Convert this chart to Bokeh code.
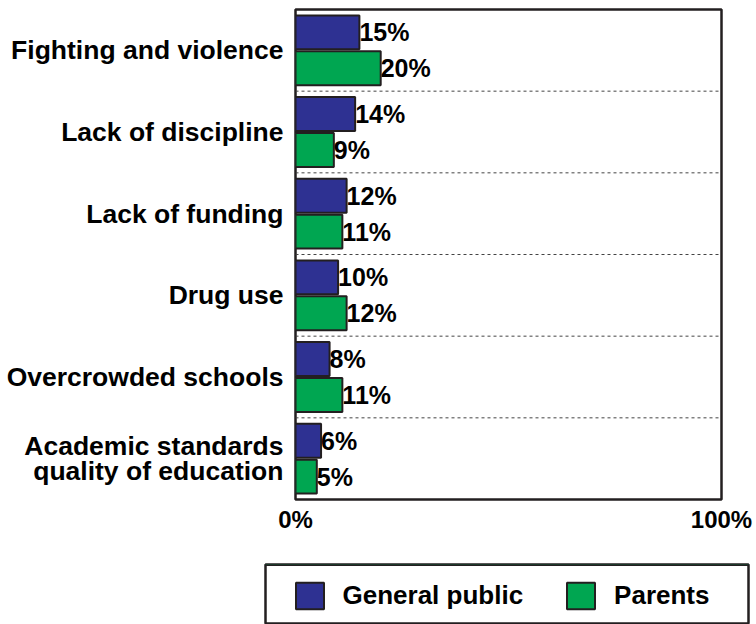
from bokeh.plotting import figure
from bokeh.models import (ColumnDataSource, FactorRange, Range1d, FixedTicker, Span,
                          Legend, LegendItem)
from bokeh.layouts import column
from bokeh.core.properties import value
from bokeh.transform import dodge
from bokeh.embed import file_html
from bokeh.resources import INLINE

categories = ["Fighting and violence", "Lack of discipline", "Lack of funding",
              "Drug use", "Overcrowded schools",
              "Academic standards\nquality of education"]
general_public = [15, 14, 12, 10, 8, 6]
parents = [20, 9, 11, 12, 11, 5]
series_names = ["General public", "Parents"]
series_colors = ["#2e3192", "#00a651"]
x_ticks = [0, 100]
x_tick_labels = ["0%", "100%"]

FONT = "Liberation Sans"
DARK = "#231f20"
OFF = 0.22
BAR_H = 0.415

src = ColumnDataSource(dict(
    cat=categories,
    gp=general_public,
    pa=parents,
    gp_lbl=[f"{v}%" for v in general_public],
    pa_lbl=[f"{v}%" for v in parents],
))

p = figure(width=756, height=540,
           y_range=FactorRange(factors=categories[::-1], range_padding=0),
           x_range=Range1d(0, 100),
           output_backend="svg", toolbar_location=None,
           min_border_left=295, min_border_right=35,
           min_border_top=9, min_border_bottom=41)
p.frame_align = False

p.xgrid.visible = False
p.ygrid.visible = False
p.outline_line_color = DARK
p.outline_line_width = 2.5
p.outline_line_alpha = 1

r1 = p.hbar(y=dodge("cat", OFF, range=p.y_range), left=0, right="gp", height=BAR_H,
            source=src, fill_color=series_colors[0], line_color=DARK, line_width=2)
r2 = p.hbar(y=dodge("cat", -OFF, range=p.y_range), left=0, right="pa", height=BAR_H,
            source=src, fill_color=series_colors[1], line_color=DARK, line_width=2)

for col, lbl, off in (("gp", "gp_lbl", OFF), ("pa", "pa_lbl", -OFF)):
    p.text(x=col, y=dodge("cat", off, range=p.y_range), text=lbl, source=src,
           x_offset=0, text_align="left", text_baseline="middle",
           text_font=value(FONT), text_font_style="bold", text_font_size="25px",
           text_color="black")

for k in range(1, len(categories)):
    p.add_layout(Span(location=k, dimension="width", line_color="#444444",
                      line_width=1, line_dash="3 3"))

# axes
p.xaxis.ticker = FixedTicker(ticks=x_ticks)
p.xaxis.major_label_overrides = {t: l for t, l in zip(x_ticks, x_tick_labels)}
p.xaxis.axis_line_color = None
p.xaxis.major_tick_line_color = None
p.xaxis.minor_tick_line_color = None
p.xaxis.major_tick_out = 0
p.xaxis.major_tick_in = 0
p.xaxis.major_label_standoff = 6
p.xaxis.major_label_text_font = FONT
p.xaxis.major_label_text_font_style = "bold"
p.xaxis.major_label_text_font_size = "24px"
p.xaxis.major_label_text_color = "black"

p.yaxis.axis_line_color = None
p.yaxis.major_tick_line_color = None
p.yaxis.minor_tick_line_color = None
p.yaxis.major_tick_out = 0
p.yaxis.major_tick_in = 0
p.yaxis.major_label_standoff = 12
p.yaxis.major_label_text_font = FONT
p.yaxis.major_label_text_font_style = "bold"
p.yaxis.major_label_text_font_size = "26.5px"
p.yaxis.major_label_text_color = "black"
p.yaxis.major_label_text_line_height = 0.85

# legend panel: its frame outline is the legend box
q = figure(width=756, height=84, x_range=Range1d(0, 1), y_range=Range1d(0, 1),
           output_backend="svg", toolbar_location=None,
           min_border_left=265, min_border_right=8,
           min_border_top=24, min_border_bottom=0)
q.frame_align = False
q.axis.visible = False
q.xgrid.visible = False
q.ygrid.visible = False
q.outline_line_color = DARK
q.outline_line_width = 2.5
q.outline_line_alpha = 1

# swatch renderers (their data lie outside this panel's ranges, so only the legend shows them)
lr = [q.hbar(y=col, left=0, right=col, height=0.5, source=src, fill_color=c,
             line_color=DARK, line_width=2)
      for col, c in zip(("gp", "pa"), series_colors)]

legend = Legend(items=[LegendItem(label=n, renderers=[r], index=0)
                       for n, r in zip(series_names, lr)],
                orientation="horizontal", location=(26.5, 12.3),
                glyph_width=35, glyph_height=33, label_standoff=16, spacing=40,
                padding=0, margin=0, border_line_alpha=0, background_fill_alpha=0,
                label_text_font=FONT, label_text_font_style="bold",
                label_text_font_size="26px", label_text_color="black")
q.add_layout(legend)

layout = column(p, q, spacing=0)
open("out.html", "w").write(file_html(layout, INLINE))
